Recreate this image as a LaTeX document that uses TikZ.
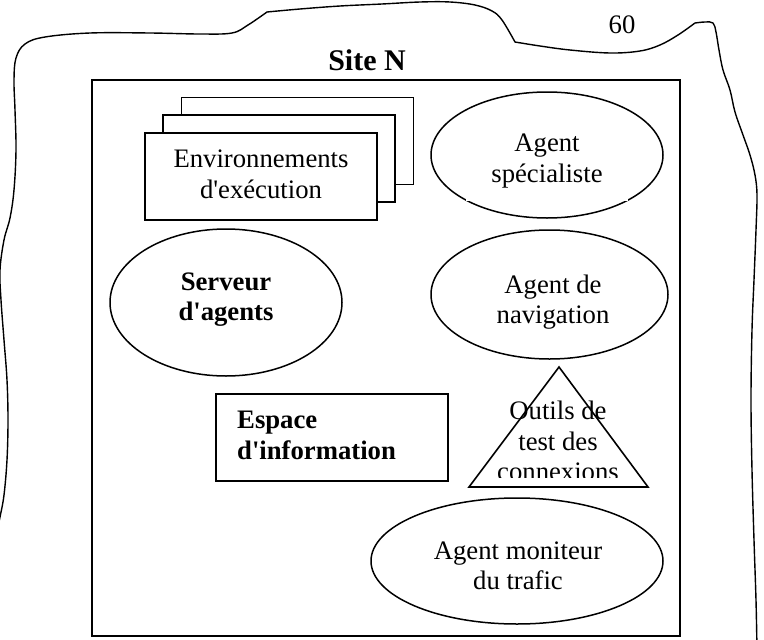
\documentclass[tikz,border=0pt]{standalone}
\usepackage{fontspec}
\setmainfont{Liberation Serif}[Ligatures=TeXOff]
\usetikzlibrary{shapes.geometric}
\begin{document}
\begin{tikzpicture}[x=1pt,y=-1pt,
  txt/.style={font=\fontsize{26.7}{30.5}\selectfont, align=center, inner sep=0pt},
  boldtxt/.style={txt, font=\fontsize{26.7}{30.5}\selectfont\bfseries},
  oval/.style={draw, ellipse, line width=1.5pt, inner sep=0pt},
  card/.style={draw, rectangle, line width=1.7pt, fill=white, inner sep=0pt,
               minimum width=232pt, minimum height=87pt},
  outline/.style={line width=1.4pt, line join=round},
]
\useasboundingbox (0,0) rectangle (764,640);

% irregular outline of the site
\draw[outline]
  plot[smooth, tension=0.6] coordinates {(-6,545) (0,517) (4,495) (7,460) (8,420) (7,380)
      (4,340) (1,300) (0,270) (4,240) (10,218) (14,190) (16,150) (15,110) (14,80)
      (16,58) (25,44) (45,37) (90,33) (150,33) (200,34) (232,33) (248,25) (267,12)}
  -- plot[smooth, tension=0.6] coordinates {(267,12) (300,9) (340,6) (382,4) (420,2)
      (450,2) (475,5) (492,11) (502,20) (515,42)}
  -- plot[smooth, tension=0.6] coordinates {(515,42) (540,46) (570,50) (610,53) (640,51)
      (660,45) (678,35) (695,23)}
  -- plot[smooth, tension=0.6] coordinates {(695,23) (705,22) (713,23) (716,32) (719,50)
      (723,70) (730,90) (735,112) (743,135) (750,155) (755,175) (757,195) (756,230)
      (754,280) (752,330) (751,400) (752,470) (754,540) (756,600) (757,650)};

\node[font=\fontsize{26.7}{30.5}\selectfont, anchor=base, inner sep=0pt] (pagenum) at (622,33) {60};
\node[font=\fontsize{30}{34}\selectfont\bfseries, anchor=base, inner sep=0pt] (site) at (367,70) {Site N};

% site frame
\node[draw, rectangle, line width=1.8pt, inner sep=0pt, minimum width=588pt,
      minimum height=556pt] (frame) at (386,358) {};

% stacked execution environments
\node[card] (env3) at (297.5,141) {};
\node[card] (env2) at (279,158.5) {};
\node[card] (env1) at (261,176.5) {};
\node[txt] (envtxt) at (261,174.5) {Environnements\\d'exécution};

% agent server
\node[oval, minimum width=232pt, minimum height=147pt] (serv) at (226,302.5) {};
\node[boldtxt] (servtxt) at (226,299.5) {Serveur\\d'agents};

% specialist agent
\node[oval, minimum width=232pt, minimum height=126pt] (spec) at (547,155) {};
\node[txt, fill=white, minimum width=162pt, minimum height=80pt] (spectxt) at (547,161)
  {Agent\\spécialiste};

% navigation agent
\node[oval, minimum width=237pt, minimum height=129pt] (nav) at (549.5,294.5) {};
\node[txt] (navtxt) at (553,302) {Agent de\\navigation};

% information space
\node[card] (espace) at (332,437.5) {};
\node[boldtxt, align=left, anchor=west] (esptxt) at (237,435.6) {Espace\\d'information};

% connection test tools
\coordinate (tTop) at (559,367);
\coordinate (tLeft) at (469,487);
\coordinate (tRight) at (648,487);
\draw[line width=1.6pt, line join=miter] (tTop) -- (tRight) -- (tLeft) -- cycle;
\begin{scope}
  \clip (440,355) rectangle (690,477);
  \node[txt] (outtxt) at (558,441) {Outils de\\test des\\connexions};
\end{scope}

% traffic monitor agent
\node[oval, minimum width=292pt, minimum height=126pt] (mon) at (517,561) {};
\node[txt] (montxt) at (518,566) {Agent moniteur\\du trafic};
\end{tikzpicture}
\end{document}
